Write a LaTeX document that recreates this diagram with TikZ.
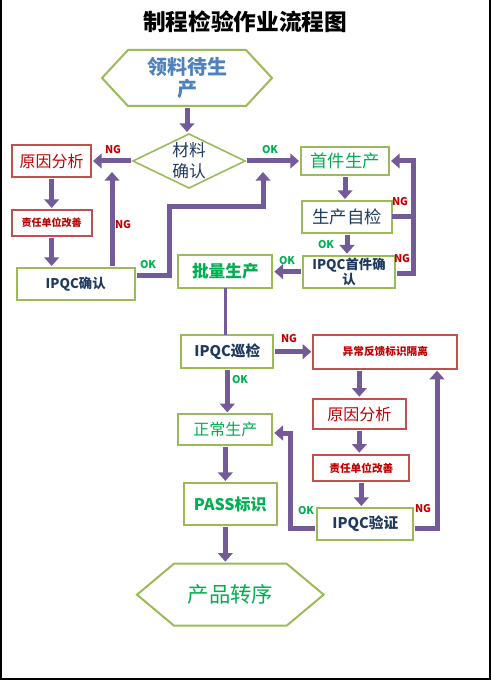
\documentclass[tikz,border=0pt]{standalone}
\usepackage{fontspec}
\newfontfamily\cjk{Noto Sans CJK SC}
\usepackage{xcolor}
\usepackage{tikz}
\usetikzlibrary{shapes,arrows.meta,positioning,calc}

\definecolor{boxgreen}{HTML}{9BBB59}
\definecolor{boxred}{HTML}{C0504D}
\definecolor{txtgreen}{HTML}{00B050}
\definecolor{txtblue}{HTML}{1F3A5F}
\definecolor{txtred}{HTML}{C00000}
\definecolor{hexblue}{HTML}{4F81BD}
\definecolor{flowpurple}{HTML}{735A98}

\begin{document}
\begin{tikzpicture}[
    x=0.75pt, y=-0.75pt,
    okbox/.style={rectangle, draw=boxgreen, line width=1.5pt, fill=white, inner sep=1pt, outer sep=0pt, align=center},
    ngbox/.style={rectangle, draw=boxred, line width=1.5pt, fill=white, inner sep=1pt, outer sep=0pt, align=center},
    check/.style={diamond, draw=boxgreen, line width=1.2pt, aspect=2, inner sep=0pt, outer sep=0pt, align=center, minimum width=84pt, minimum height=40.5pt},
    hexline/.style={draw=boxgreen, line width=1.5pt},
    arrow/.style={-{Triangle[length=6.5pt,width=11pt]}, line width=3.75pt, draw=flowpurple, shorten >=1.5pt, shorten <=1.5pt},
    joinline/.style={line width=3.75pt, draw=flowpurple},
    thinline/.style={line width=2.25pt, draw=flowpurple},
    nglabel/.style={font=\cjk\bfseries\fontsize{8}{9}\selectfont, text=txtred, inner sep=0pt},
    oklabel/.style={font=\cjk\bfseries\fontsize{8}{9}\selectfont, text=txtgreen, inner sep=0pt}
]
    \useasboundingbox (0,0) rectangle (491,680);
    \draw[line width=1.5pt] (1,0) -- (1,679) -- (490,679) -- (490,0);

    % Title
    \node[font=\cjk\bfseries\fontsize{17}{20}\selectfont] (title) at (245,22) {制程检验作业流程图};

    % Incoming material
    \node[minimum width=127.5pt, minimum height=42pt, outer sep=0pt, text=hexblue, align=center, font=\cjk\bfseries\fontsize{15}{16}\selectfont] (hextop) at (187,78) {领料待生\\产};
    \node[check, below=21pt of hextop, xshift=1.5pt, text=txtblue, font=\cjk\fontsize{12.5}{16}\selectfont] (cailiao) {材料\\确认};

    % Material NG loop
    \node[ngbox, left=31.5pt of cailiao, minimum width=59pt, minimum height=24pt, text=txtred, font=\cjk\fontsize{12}{14}\selectfont] (yuanyinA) {原因分析};
    \node[ngbox, below=24.75pt of yuanyinA, minimum width=60pt, minimum height=19.5pt, text=txtred, font=\cjk\bfseries\fontsize{7.5}{9}\selectfont] (zerenA) {责任单位改善};
    \node[okbox, below=24pt of zerenA, xshift=18pt, minimum width=88.5pt, minimum height=24pt, text=txtblue, font=\cjk\bfseries\fontsize{10}{12}\selectfont] (ipqcA) {IPQC确认};

    % First article
    \node[okbox, right=42pt of cailiao, minimum width=66pt, minimum height=21pt, text=txtgreen, font=\cjk\fontsize{13}{15}\selectfont] (shoujian) {首件生产};
    \node[okbox, below=19.5pt of shoujian, xshift=1.5pt, minimum width=67pt, minimum height=24pt, text=txtblue, font=\cjk\fontsize{13}{15}\selectfont] (zijian) {生产自检};
    \node[okbox, below=17pt of zijian, xshift=1.5pt, minimum width=69pt, minimum height=24pt, text=txtblue, font=\cjk\bfseries\fontsize{10}{11}\selectfont] (ipqcB) {IPQC首件确\\认};

    % Mass production
    \node[okbox, left=23pt of ipqcB, minimum width=70.5pt, minimum height=25pt, text=txtgreen, font=\cjk\bfseries\fontsize{12.5}{14}\selectfont] (piliang) {批量生产};
    \node[okbox, below=35pt of piliang, xshift=1.5pt, minimum width=69pt, minimum height=25pt, text=txtblue, font=\cjk\bfseries\fontsize{11}{13}\selectfont] (xunjian) {IPQC巡检};
    \node[okbox, below=34.5pt of xunjian, xshift=-1.5pt, minimum width=70.5pt, minimum height=23pt, text=txtgreen, font=\cjk\fontsize{12}{14}\selectfont] (zhengchang) {正常生产};
    \node[okbox, below=28.5pt of zhengchang, xshift=3.75pt, minimum width=70pt, minimum height=31.5pt, text=txtgreen, font=\cjk\bfseries\fontsize{12}{14}\selectfont] (pass) {PASS标识};
    \node[below=29pt of pass, minimum width=140pt, minimum height=46.5pt, outer sep=0pt, text=txtgreen, font=\cjk\fontsize{16}{18}\selectfont] (hexbot) {产品转序};

    % Patrol NG loop
    \node[ngbox, right=30pt of xunjian, minimum width=108pt, minimum height=25.5pt, text=txtred, font=\cjk\bfseries\fontsize{8}{10}\selectfont] (yichang) {异常反馈标识隔离};
    \node[ngbox, below=22.5pt of yichang, xshift=-19.5pt, minimum width=70pt, minimum height=23pt, text=txtred, font=\cjk\fontsize{12}{14}\selectfont] (yuanyinB) {原因分析};
    \node[ngbox, below=19pt of yuanyinB, xshift=1.5pt, minimum width=72pt, minimum height=20pt, text=txtred, font=\cjk\bfseries\fontsize{8}{10}\selectfont] (zerenB) {责任单位改善};
    \node[okbox, below=20pt of zerenB, xshift=3pt, minimum width=72pt, minimum height=24pt, text=txtblue, font=\cjk\bfseries\fontsize{11}{13}\selectfont] (yanzheng) {IPQC验证};

    % Hexagon outlines
    \foreach \hex/\cut in {hextop/19.5pt, hexbot/27.75pt}
        \draw[hexline] (\hex.west) -- ([xshift=\cut]\hex.north west) -- ([xshift=-\cut]\hex.north east) -- (\hex.east) -- ([xshift=-\cut]\hex.south east) -- ([xshift=\cut]\hex.south west) -- cycle;

    % Bend points
    \coordinate (ngup) at (112,170);
    \coordinate (okbend) at (169,207);
    \coordinate (okjoin) at (263,170);
    \coordinate (ngright) at (413,0);
    \coordinate (okleft) at (290,433);
    \coordinate (ngback) at (437,0);

    % Arrows
    \draw[arrow] (hextop.south) -- (hextop.south |- cailiao.north);
    \draw[arrow] (cailiao.west) -- (yuanyinA.east);
    \draw[arrow] (yuanyinA.south) -- (zerenA.north);
    \draw[arrow] (zerenA.south) -- (zerenA.south |- ipqcA.north);
    \draw[arrow] (ipqcA.north -| ngup) -- (ngup);
    \draw[arrow] ([yshift=6pt]ipqcA.east) -| (okbend) -| (okjoin);
    \draw[arrow] (cailiao.east) -- (shoujian.west);
    \draw[arrow] (shoujian.south) -- (shoujian.south |- zijian.north);
    \draw[arrow] (zijian.south) -- (zijian.south |- ipqcB.north);
    \draw[joinline] (zijian.east) -- (zijian.east -| ngright);
    \draw[arrow] ([yshift=-1.5pt]ipqcB.east) -- ([yshift=-1.5pt]ipqcB.east -| ngright) |- (shoujian.east);
    \draw[arrow] (ipqcB.west) -- (piliang.east);
    \draw[thinline] (piliang.south) -- (piliang.south |- xunjian.north);
    \draw[arrow] (xunjian.east) -- (yichang.west);
    \draw[arrow] (xunjian.south) -- (xunjian.south |- zhengchang.north);
    \draw[arrow] (zhengchang.south) -- (zhengchang.south |- pass.north);
    \draw[arrow] (zhengchang.south |- pass.south) -- (zhengchang.south |- hexbot.north);
    \draw[arrow] (yichang.south -| yuanyinB) -- (yuanyinB.north);
    \draw[arrow] (yuanyinB.south) -- (yuanyinB.south |- zerenB.north);
    \draw[arrow] (zerenB.south) -- (zerenB.south |- yanzheng.north);
    \draw[arrow] ([yshift=-3pt]yanzheng.west) -| (okleft) -- (okleft -| zhengchang.east);
    \draw[arrow] ([yshift=-3pt]yanzheng.east) -| (ngback |- yichang.south);

    % Labels
    \node[nglabel] (ngA) at (113,150) {NG};
    \node[nglabel] (ngB) at (123,225) {NG};
    \node[oklabel] (okA) at (148,265) {OK};
    \node[oklabel] (okB) at (270,150) {OK};
    \node[nglabel] (ngC) at (400,202) {NG};
    \node[nglabel] (ngD) at (402,259) {NG};
    \node[oklabel] (okC) at (326,245) {OK};
    \node[oklabel] (okD) at (287,261) {OK};
    \node[nglabel] (ngE) at (289,339) {NG};
    \node[oklabel] (okE) at (240,380) {OK};
    \node[oklabel] (okF) at (306,511) {OK};
    \node[nglabel] (ngF) at (423,509) {NG};
\end{tikzpicture}
\end{document}
